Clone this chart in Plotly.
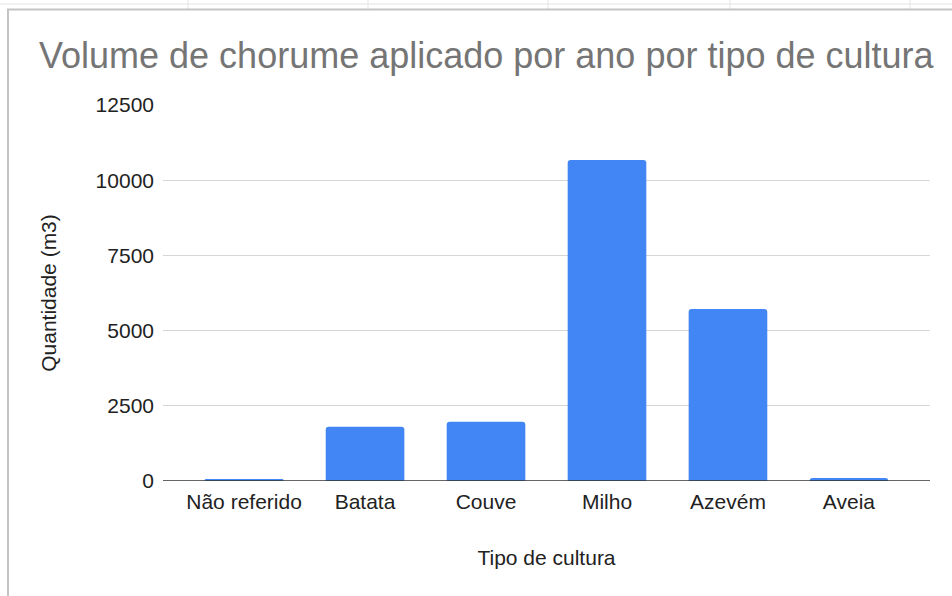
import plotly.graph_objects as go

categories = ["Não referido", "Batata", "Couve", "Milho", "Azevém", "Aveia"]
values = [40, 1800, 1970, 10670, 5720, 100]
y_ticks = [0, 2500, 5000, 7500, 10000, 12500]

W, H = 952, 596
L, R, T, B = 163, 930, 105, 481  # plot area in pixels

def xp(px):
    return (px - L) / (R - L)

def yp(py):
    return (B - py) / (B - T)

fig = go.Figure(
    go.Bar(
        x=categories,
        y=values,
        width=0.65,
        marker=dict(color="#4285f4", line=dict(width=0), cornerradius=3),
        hoverinfo="x+y",
    )
)

shapes = []
# spreadsheet grid remnants at the top
shapes.append(dict(type="line", xref="paper", yref="paper",
                   x0=xp(0), x1=xp(W), y0=yp(4), y1=yp(4),
                   line=dict(color="#e3e3e3", width=1)))
for vx in [188, 368, 548, 730, 910]:
    shapes.append(dict(type="line", xref="paper", yref="paper",
                       x0=xp(vx), x1=xp(vx), y0=yp(0), y1=yp(9),
                       line=dict(color="#e3e3e3", width=1)))
# chart border
shapes.append(dict(type="line", xref="paper", yref="paper",
                   x0=xp(7), x1=xp(W), y0=yp(9.5), y1=yp(9.5),
                   line=dict(color="#c4c4c4", width=2)))
shapes.append(dict(type="line", xref="paper", yref="paper",
                   x0=xp(8), x1=xp(8), y0=yp(9), y1=yp(H + 2),
                   line=dict(color="#c4c4c4", width=2)))
# baseline
shapes.append(dict(type="line", xref="paper", yref="y",
                   x0=0, x1=1, y0=0, y1=0,
                   line=dict(color="#333333", width=1.5), layer="above"))

font_family = "Liberation Sans, Arial, sans-serif"

fig.update_layout(
    width=W, height=H,
    margin=dict(l=L, r=W - R, t=T, b=H - B, pad=0),
    paper_bgcolor="white",
    plot_bgcolor="white",
    showlegend=False,
    font=dict(family=font_family, size=21, color="#222222"),
    title=dict(
        text="Volume de chorume aplicado por ano por tipo de cultura",
        font=dict(family=font_family, size=36, color="#757575"),
        xref="container", x=39 / W, xanchor="left",
        yref="container", y=1 - 55 / H, yanchor="middle",
    ),
    xaxis=dict(
        range=[-0.67, 5.67],
        showgrid=False,
        showline=False,
        zeroline=False,
        ticks="",
        ticklabelstandoff=6,
        tickfont=dict(size=21, color="#222222"),
        title=dict(text="Tipo de cultura", font=dict(size=21, color="#222222"), standoff=38),
    ),
    yaxis=dict(
        range=[0, 12500],
        tickvals=y_ticks,
        ticktext=[str(v) for v in y_ticks],
        showgrid=True,
        gridcolor="#d6d6d6",
        gridwidth=1,
        zeroline=False,
        showline=False,
        ticks="",
        ticklabelstandoff=8,
        tickfont=dict(size=21, color="#222222"),
        title=dict(text="Quantidade (m3)", font=dict(size=21, color="#222222"), standoff=33),
    ),
    shapes=shapes,
    bargap=0.35,
)

fig.write_html(
    "out.html",
    config={"displayModeBar": False},
    post_script="document.body.style.margin='0';document.body.style.overflow='hidden';",
)
